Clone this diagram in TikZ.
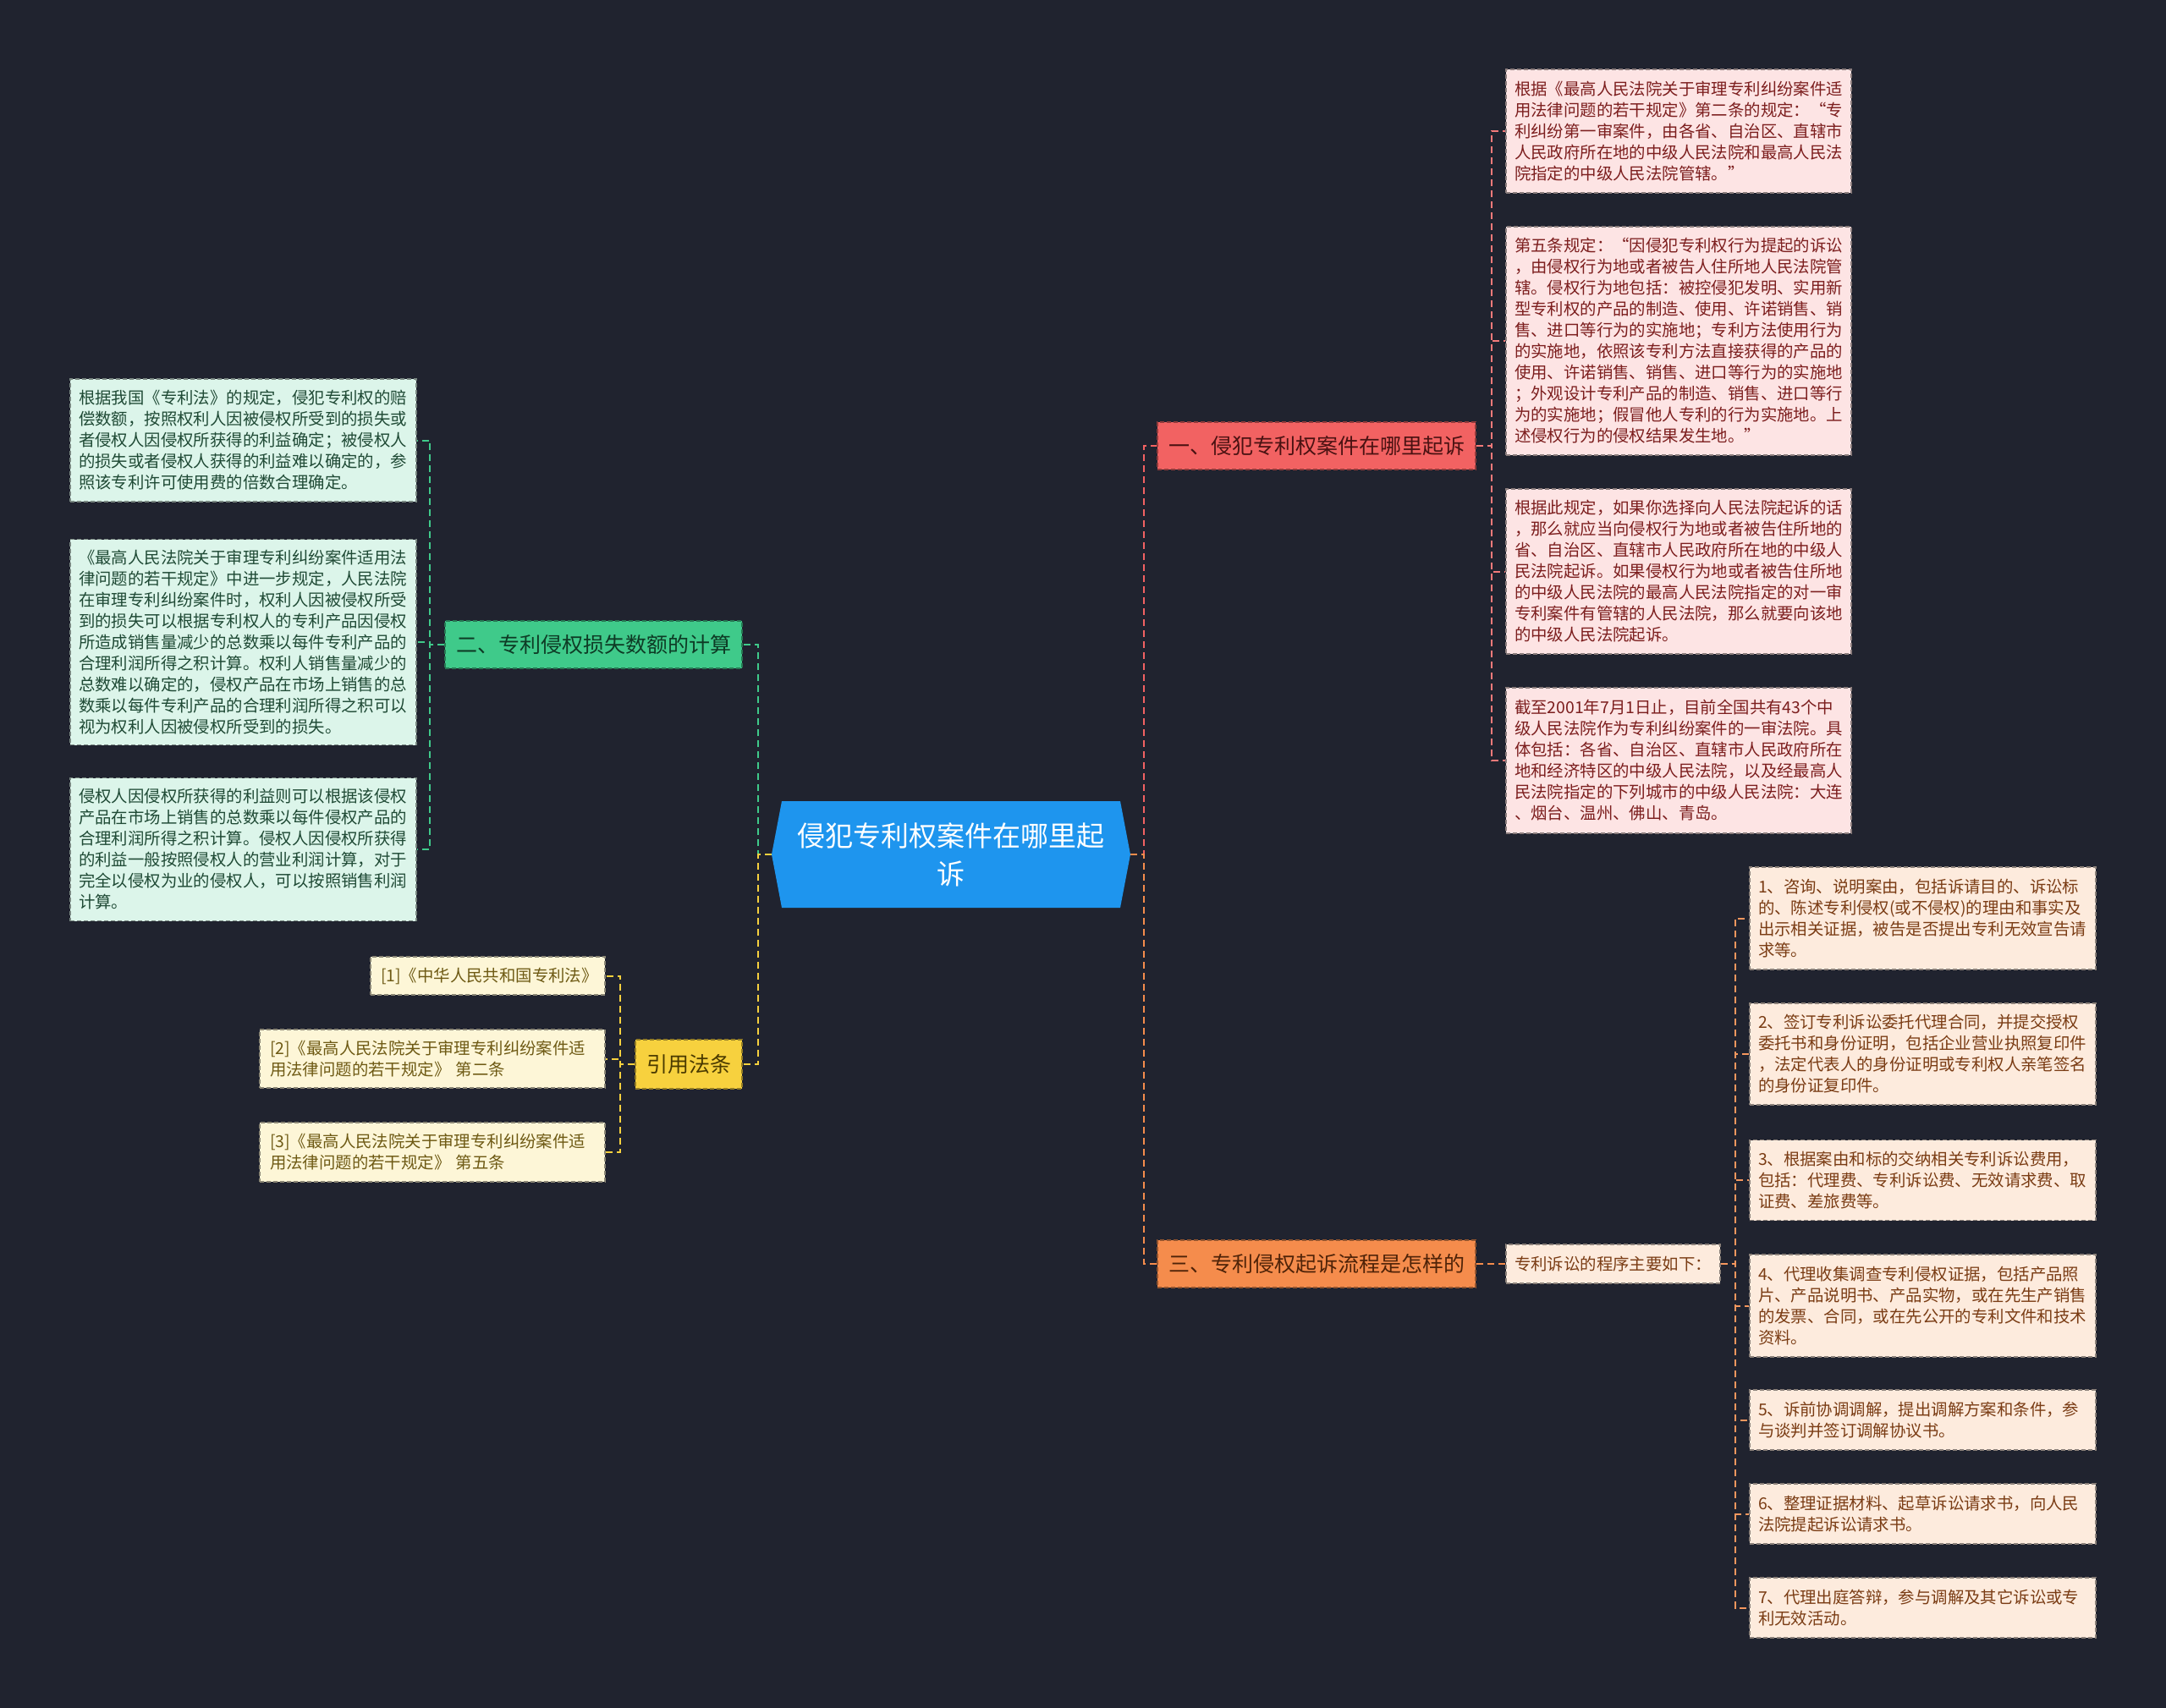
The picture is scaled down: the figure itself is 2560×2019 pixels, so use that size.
\documentclass[tikz,border=0pt]{standalone}
\usepackage{fontspec}
\setmainfont{Noto Sans CJK SC}
\definecolor{bg}{HTML}{20232F}
\definecolor{cblue}{HTML}{1E95EE}
\definecolor{bred}{HTML}{F26262}
\definecolor{bredt}{HTML}{4A1212}
\definecolor{borange}{HTML}{F58C4C}
\definecolor{boranget}{HTML}{4F2308}
\definecolor{bgreen}{HTML}{3FCA8A}
\definecolor{bgreent}{HTML}{0E3B25}
\definecolor{byellow}{HTML}{F7D13E}
\definecolor{byellowt}{HTML}{4A3A00}
\definecolor{lred}{HTML}{FDE4E4}
\definecolor{lredt}{HTML}{7C1E1E}
\definecolor{lgreen}{HTML}{DCF5EA}
\definecolor{lgreent}{HTML}{1F4A35}
\definecolor{lyellow}{HTML}{FDF6D7}
\definecolor{lyellowt}{HTML}{6E5A14}
\definecolor{lpeach}{HTML}{FDEBDD}
\definecolor{lpeacht}{HTML}{7A3C14}
\tikzset{
  anybox/.style={rectangle, inner ysep=0pt, line width=1.5pt, dash pattern=on 5pt off 3pt},
  leafbox/.style={anybox, inner xsep=10pt, align=left, font=\fontsize{19.4}{25}\selectfont},
  redleaf/.style={leafbox, fill=lred, draw=lred!55!black, text=lredt, text width=388pt, minimum height=#1},
  greenleaf/.style={leafbox, fill=lgreen, draw=lgreen!55!black, text=lgreent, text width=389pt, minimum height=#1},
  yellowleaf/.style={leafbox, fill=lyellow, draw=lyellow!55!black, text=lyellowt, inner xsep=12pt, minimum height=#1},
  peachleaf/.style={leafbox, fill=lpeach, draw=lpeach!55!black, text=lpeacht, text width=389pt, minimum height=#1},
  branchbox/.style={anybox, inner xsep=13pt, minimum height=56pt, font=\fontsize{25}{30}\selectfont},
  conn/.style={line width=2pt, dash pattern=on 8pt off 5pt},
  centerbox/.style={rectangle, minimum width=424pt, minimum height=126pt, inner sep=0pt,
    text width=400pt, align=center, text=white, fill=bg, font=\fontsize{33}{45}\selectfont,
    path picture={\fill[cblue] (path picture bounding box.west)
      -- ([xshift=12pt]path picture bounding box.north west)
      -- ([xshift=-12pt]path picture bounding box.north east)
      -- (path picture bounding box.east)
      -- ([xshift=-12pt]path picture bounding box.south east)
      -- ([xshift=12pt]path picture bounding box.south west) -- cycle;}},
}
\begin{document}
\begin{tikzpicture}[x=1pt,y=-1pt]
\useasboundingbox (0,0) rectangle (2560,2019);
\fill[bg] (0,0) rectangle (2560,2019);

% center
\node[centerbox] (C) at (1124,1010) {侵犯专利权案件在哪里起\\诉};

% branches
\node[branchbox, fill=bred, draw=bred!60!black, text=bredt, minimum width=376pt] (B1) at (1556,527) {一、侵犯专利权案件在哪里起诉};
\node[branchbox, fill=borange, draw=borange!60!black, text=boranget, minimum width=376pt] (B3) at (1556,1494) {三、专利侵权起诉流程是怎样的};
\node[branchbox, fill=bgreen, draw=bgreen!60!black, text=bgreent, minimum width=351pt] (B2) at (701.5,762) {二、专利侵权损失数额的计算};
\node[branchbox, fill=byellow, draw=byellow!60!black, text=byellowt, minimum width=126pt, minimum height=58pt] (B4) at (814,1258) {引用法条};

% red leaves
\node[redleaf=146pt] (R1) at (1984,155) {根据《最高人民法院关于审理专利纠纷案件适\\用法律问题的若干规定》第二条的规定：“专\\利纠纷第一审案件，由各省、自治区、直辖市\\人民政府所在地的中级人民法院和最高人民法\\院指定的中级人民法院管辖。”};
\node[redleaf=270pt] (R2) at (1984,403) {第五条规定：“因侵犯专利权行为提起的诉讼\\，由侵权行为地或者被告人住所地人民法院管\\辖。侵权行为地包括：被控侵犯发明、实用新\\型专利权的产品的制造、使用、许诺销售、销\\售、进口等行为的实施地；专利方法使用行为\\的实施地，依照该专利方法直接获得的产品的\\使用、许诺销售、销售、进口等行为的实施地\\；外观设计专利产品的制造、销售、进口等行\\为的实施地；假冒他人专利的行为实施地。上\\述侵权行为的侵权结果发生地。”};
\node[redleaf=195pt] (R3) at (1984,675.5) {根据此规定，如果你选择向人民法院起诉的话\\，那么就应当向侵权行为地或者被告住所地的\\省、自治区、直辖市人民政府所在地的中级人\\民法院起诉。如果侵权行为地或者被告住所地\\的中级人民法院的最高人民法院指定的对一审\\专利案件有管辖的人民法院，那么就要向该地\\的中级人民法院起诉。};
\node[redleaf=172pt] (R4) at (1984,899) {截至2001年7月1日止，目前全国共有43个中\\级人民法院作为专利纠纷案件的一审法院。具\\体包括：各省、自治区、直辖市人民政府所在\\地和经济特区的中级人民法院，以及经最高人\\民法院指定的下列城市的中级人民法院：大连\\、烟台、温州、佛山、青岛。};

% process
\node[leafbox, fill=lpeach, draw=lpeach!55!black, text=lpeacht, minimum width=253pt, minimum height=46pt] (P0) at (1906.5,1494) {专利诉讼的程序主要如下：};
\node[peachleaf=121pt] (P1) at (2272.5,1085.5) {1、咨询、说明案由，包括诉请目的、诉讼标\\的、陈述专利侵权(或不侵权)的理由和事实及\\出示相关证据，被告是否提出专利无效宣告请\\求等。};
\node[peachleaf=120pt] (P2) at (2272.5,1246) {2、签订专利诉讼委托代理合同，并提交授权\\委托书和身份证明，包括企业营业执照复印件\\，法定代表人的身份证明或专利权人亲笔签名\\的身份证复印件。};
\node[peachleaf=95pt] (P3) at (2272.5,1395) {3、根据案由和标的交纳相关专利诉讼费用，\\包括：代理费、专利诉讼费、无效请求费、取\\证费、差旅费等。};
\node[peachleaf=121pt] (P4) at (2272.5,1543.5) {4、代理收集调查专利侵权证据，包括产品照\\片、产品说明书、产品实物，或在先生产销售\\的发票、合同，或在先公开的专利文件和技术\\资料。};
\node[peachleaf=71pt] (P5) at (2272.5,1678.5) {5、诉前协调调解，提出调解方案和条件，参\\与谈判并签订调解协议书。};
\node[peachleaf=71pt] (P6) at (2272.5,1789.5) {6、整理证据材料、起草诉讼请求书，向人民\\法院提起诉讼请求书。};
\node[peachleaf=71pt] (P7) at (2272.5,1900.5) {7、代理出庭答辩，参与调解及其它诉讼或专\\利无效活动。};

% green leaves
\node[greenleaf=145pt] (G1) at (287.5,520.5) {根据我国《专利法》的规定，侵犯专利权的赔\\偿数额，按照权利人因被侵权所受到的损失或\\者侵权人因侵权所获得的利益确定；被侵权人\\的损失或者侵权人获得的利益难以确定的，参\\照该专利许可使用费的倍数合理确定。};
\node[greenleaf=243pt] (G2) at (287.5,759) {《最高人民法院关于审理专利纠纷案件适用法\\律问题的若干规定》中进一步规定，人民法院\\在审理专利纠纷案件时，权利人因被侵权所受\\到的损失可以根据专利权人的专利产品因侵权\\所造成销售量减少的总数乘以每件专利产品的\\合理利润所得之积计算。权利人销售量减少的\\总数难以确定的，侵权产品在市场上销售的总\\数乘以每件专利产品的合理利润所得之积可以\\视为权利人因被侵权所受到的损失。};
\node[greenleaf=169pt] (G3) at (287.5,1004) {侵权人因侵权所获得的利益则可以根据该侵权\\产品在市场上销售的总数乘以每件侵权产品的\\合理利润所得之积计算。侵权人因侵权所获得\\的利益一般按照侵权人的营业利润计算，对于\\完全以侵权为业的侵权人，可以按照销售利润\\计算。};

% yellow leaves
\node[yellowleaf=45pt, text width=253pt] (Y1) at (576.5,1153.5) {[1]《中华人民共和国专利法》};
\node[yellowleaf=69pt, text width=384pt] (Y2) at (511,1251.5) {[2]《最高人民法院关于审理专利纠纷案件适\\用法律问题的若干规定》 第二条};
\node[yellowleaf=70pt, text width=384pt] (Y3) at (511,1362) {[3]《最高人民法院关于审理专利纠纷案件适\\用法律问题的若干规定》 第五条};

% connectors from center
\draw[conn, bred] (C.east) -- ++(16,0) |- (B1.west);
\draw[conn, borange] (C.east) -- ++(16,0) |- (B3.west);
\draw[conn, bgreen] (C.west) -- ++(-16,0) |- (B2.east);
\draw[conn, byellow] (C.west) -- ++(-16,0) |- (B4.east);

% branch 1 leaves
\foreach \n in {R1,R2,R3,R4}{
  \draw[conn, bred!85!white] (B1.east) -- ++(18,0) |- (\n.west);
}
% branch 3
\draw[conn, borange] (B3.east) -- (P0.west);
\foreach \n in {P1,P2,P3,P4,P5,P6,P7}{
  \draw[conn, borange!90!white] (P0.east) -- ++(17,0) |- (\n.west);
}
% branch 2
\foreach \n in {G1,G2,G3}{
  \draw[conn, bgreen] (B2.west) -- ++(-17,0) |- (\n.east);
}
% branch 4
\foreach \n in {Y1,Y2,Y3}{
  \draw[conn, byellow] (B4.west) -- ++(-17,0) |- (\n.east);
}
\end{tikzpicture}
\end{document}
